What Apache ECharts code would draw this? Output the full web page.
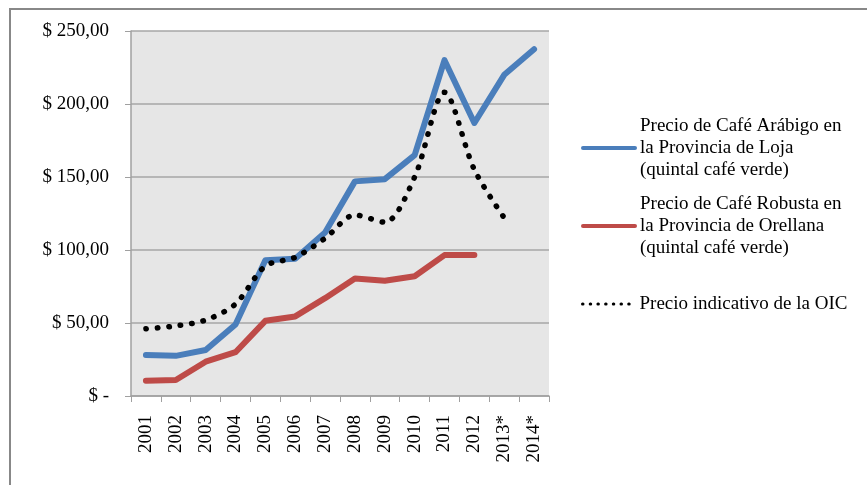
<!DOCTYPE html>
<html>
<head>
    <meta charset="UTF-8">
    <title>Precio del café</title>
    <script src="https://cdn.jsdelivr.net/npm/echarts/dist/echarts.min.js"></script>
    <style>
        html, body { margin: 0; padding: 0; background: #fff; }
    </style>
</head>
<body>
    <div id="main" style="width: 867px;height:485px;"></div>
    <script type="text/javascript">
        var myChart = echarts.init(document.getElementById('main'));

        // datos
        var years = ['2001', '2002', '2003', '2004', '2005', '2006', '2007', '2008', '2009', '2010', '2011', '2012', '2013*', '2014*'];
        var arabigoLoja = [28, 27.5, 31.5, 49, 93, 94, 112, 147, 148.5, 165, 230, 187, 220, 237.5];
        var robustaOrellana = [10.5, 11, 23.5, 30, 51.5, 54.5, 67, 80.5, 79, 82, 96.5, 96.5, null, null];
        var precioOIC = [46, 48, 52, 63, 89, 95, 108, 124, 119, 150, 208, 155, 122, null];
        var yTicks = [0, 50, 100, 150, 200, 250];
        var yTickLabels = ['$ -', '$ 50,00', '$ 100,00', '$ 150,00', '$ 200,00', '$ 250,00'];

        var seriesNames = [
            'Precio de Café Arábigo en\nla Provincia de Loja\n(quintal café verde)',
            'Precio de Café Robusta en\nla Provincia de Orellana\n(quintal café verde)',
            'Precio indicativo de la OIC'
        ];

        var fontFamily = '"Liberation Serif", "DejaVu Serif", serif';

        // una leyenda por serie para poder colocar cada una
        function legendAt(name, top, multi, lineStyle) {
            return {
                data: [name],
                orient: 'vertical',
                left: 576,
                top: top,
                itemWidth: 52,
                itemHeight: 14,
                selectedMode: false,
                itemStyle: { opacity: 0 },
                lineStyle: lineStyle,
                textStyle: {
                    fontFamily: fontFamily,
                    fontSize: 19,
                    color: '#000',
                    lineHeight: 22,
                    padding: multi ? [44, 0, 0, 0] : 0
                }
            };
        }

        var option = {
            animation: false,
            graphic: [
                {
                    type: 'rect',
                    shape: { x: 10, y: 9, width: 900, height: 520 },
                    style: { fill: 'none', stroke: '#888', lineWidth: 2 },
                    silent: true
                }
            ],
            legend: [
                legendAt(seriesNames[0], 88, true, { width: 4, color: '#4a7ebb', cap: 'round' }),
                legendAt(seriesNames[1], 166, true, { width: 4, color: '#be4b48', cap: 'round' }),
                legendAt(seriesNames[2], 288, false, { width: 3, color: '#000', type: [0.5, 7.2], cap: 'round' })
            ],
            grid: {
                left: 131,
                top: 31,
                width: 418,
                height: 365,
                show: true,
                backgroundColor: '#e6e6e6',
                borderWidth: 0
            },
            xAxis: {
                type: 'category',
                data: years,
                boundaryGap: true,
                axisLine: { lineStyle: { color: '#a0a0a0', width: 1.5 } },
                axisTick: { show: true, length: 6, lineStyle: { color: '#a0a0a0' } },
                axisLabel: {
                    rotate: 90,
                    margin: 19,
                    color: '#000',
                    fontFamily: fontFamily,
                    fontSize: 19
                }
            },
            yAxis: {
                type: 'value',
                min: 0,
                max: 250,
                interval: 50,
                axisLine: { show: true, lineStyle: { color: '#a0a0a0', width: 1.5 } },
                axisTick: { show: true, length: 6, lineStyle: { color: '#a0a0a0' } },
                splitLine: { lineStyle: { color: '#a6a6a6', width: 1.5 } },
                axisLabel: {
                    margin: 22,
                    color: '#000',
                    fontFamily: fontFamily,
                    fontSize: 19,
                    formatter: function (v) {
                        return yTickLabels[yTicks.indexOf(v)];
                    }
                }
            },
            series: [
                {
                    name: seriesNames[0],
                    type: 'line',
                    data: arabigoLoja,
                    symbol: 'none',
                    lineStyle: { color: '#4a7ebb', width: 6, join: 'round', cap: 'round' },
                    itemStyle: { color: '#4a7ebb' },
                    z: 3
                },
                {
                    name: seriesNames[1],
                    type: 'line',
                    data: robustaOrellana,
                    symbol: 'none',
                    lineStyle: { color: '#be4b48', width: 6, join: 'round', cap: 'round' },
                    itemStyle: { color: '#be4b48' },
                    z: 2
                },
                {
                    name: seriesNames[2],
                    type: 'line',
                    data: precioOIC,
                    symbol: 'none',
                    smooth: 0.3,
                    lineStyle: { color: '#000', width: 5.5, type: [0.5, 11], cap: 'round' },
                    itemStyle: { color: '#000' },
                    z: 4
                }
            ]
        };

        myChart.setOption(option);
    </script>
</body>
</html>
